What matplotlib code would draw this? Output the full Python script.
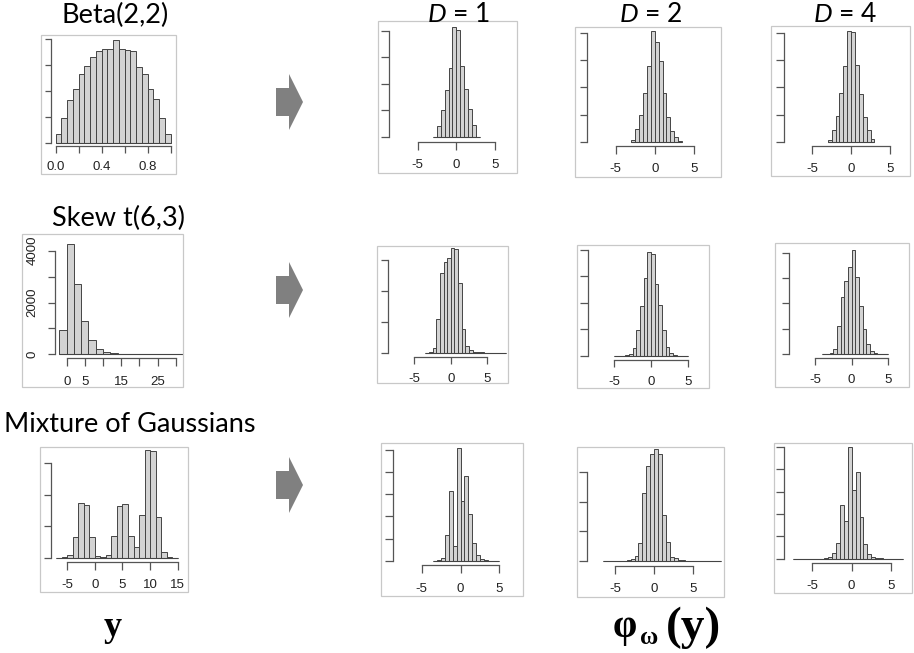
import matplotlib.pyplot as plt
from matplotlib.patches import Rectangle, Polygon
import numpy as np

plt.rcParams['mathtext.fontset'] = 'custom'
plt.rcParams['mathtext.it'] = 'Lato:italic'
plt.rcParams['mathtext.rm'] = 'Lato'

# original samples y
beta_counts = [72, 196, 330, 418, 532, 594, 661, 710, 725, 725,
               790, 723, 712, 705, 581, 527, 413, 341, 196, 72]
beta_start, beta_width = 0.0, 0.05
skew_counts = [939, 4244, 2701, 1286, 540, 219, 90, 51, 26, 12, 6, 3, 2, 1, 1, 0, 1]
skew_start, skew_width = -2.0, 2.0
mix_counts = [3, 5, 42, 332, 868, 842, 332, 32, 5, 37, 347,
              821, 853, 337, 163, 684, 1711, 1695, 647, 95, 11, 2]
mix_start, mix_width = -7.0, 1.0

# transformed samples phi_w(y), bins of 0.5
beta_d1 = [6, 213, 513, 875, 1306, 2075, 2013, 1338, 894, 525, 219, 6]
beta_d2 = [31, 233, 485, 896, 1393, 2043, 1840, 1491, 896, 448, 196, 80, 6]
beta_d4 = [31, 215, 478, 890, 1393, 2043, 2012, 1405, 877, 460, 215, 43]
skew_d1 = [0, 5, 75, 539, 1283, 1472, 1537, 1688, 1672, 1121, 377,
           108, 38, 16, 5, 5, 2, 1, 1, 0, 0, 1]
skew_d2 = [0, 0, 1, 13, 31, 144, 494, 944, 1463, 1956, 1931,
           1356, 956, 494, 169, 44, 13, 3, 1, 0]
skew_d4 = [0, 3, 20, 99, 546, 1119, 1441, 1711, 2053, 1513, 948, 487, 197, 59, 20, 7, 2, 1]
mix_d1 = [2, 8, 53, 580, 1574, 339, 2538, 1348, 1920, 1062, 392, 136, 30, 8, 3, 1, 0]
mix_d2 = [0, 0, 0, 0, 0, 1, 11, 28, 90, 303, 1158, 1607, 1804, 1888, 1804,
          770, 315, 73, 45, 22, 11, 4, 2, 1, 0, 0, 1, 0, 0, 0]
mix_d4 = [0, 0, 1, 0, 0, 0, 1, 2, 7, 37, 119, 358, 1194, 851, 2492, 1537,
          1932, 933, 336, 97, 37, 22, 7, 3, 1, 1, 0, 0]
d_width = 0.5

row_titles = ['Beta(2,2)', 'Skew t(6,3)', 'Mixture of Gaussians']
col_titles = ['1', '2', '4']

W, H = 914, 653
fig = plt.figure(figsize=(W / 100, H / 100), dpi=100)

FRAME = '#c8c8c8'
AXIS = '#555555'
BAR = '#d3d3d3'
EDGE = '#444444'
TEXT = '#222222'
PT = 0.72  # points per pixel
TICK_FS = 9.5
HALF = 6.5  # half height of a tick label, px


def fx(px):
    return px / W


def fy(py):
    return 1 - py / H


def hist_panel(frame, xref, yref, yaxis, xaxis, counts, start, width,
               xticks, xlabels, yticks, xlab_y, ylabels=None, ylab_x=None):
    l, t, r, b = frame
    fig.add_artist(Rectangle((fx(l), fy(b)), (r - l) / W, (b - t) / H,
                             transform=fig.transFigure, fill=False,
                             edgecolor=FRAME, linewidth=0.9))
    ax = fig.add_axes([fx(l), fy(b), (r - l) / W, (b - t) / H])
    (xa, pxa), (xb, pxb) = xref
    sx = (xb - xa) / (pxb - pxa)
    (ya, pya), (yb, pyb) = yref
    sy = (yb - ya) / (pyb - pya)
    ax.set_xlim(xa + (l - pxa) * sx, xa + (r - pxa) * sx)
    ax.set_ylim(ya + (b - pya) * sy, ya + (t - pya) * sy)
    ax.patch.set_visible(False)

    edges = start + width * np.arange(len(counts) + 1)
    ax.bar(edges[:-1], counts, width=width, align='edge', color=BAR,
           edgecolor=EDGE, linewidth=0.7, clip_on=False)
    ax.hlines(0, edges[0], edges[-1], color=EDGE, linewidth=0.8)

    for s in ['top', 'right']:
        ax.spines[s].set_visible(False)
    ax.spines['left'].set_position(('data', xa + (yaxis[0] - pxa) * sx))
    ax.spines['left'].set_bounds(yticks[0], yticks[-1])
    ax.spines['bottom'].set_position(('data', ya + (xaxis[0] - pya) * sy))
    ax.spines['bottom'].set_bounds(xticks[0], xticks[-1])
    for s in ['left', 'bottom']:
        ax.spines[s].set_color(AXIS)
        ax.spines[s].set_linewidth(0.9)

    ax.set_xticks(xticks)
    ax.set_xticklabels(xlabels, fontfamily='Liberation Sans', fontsize=TICK_FS, color=TEXT)
    ax.tick_params(axis='x', direction='out', color=AXIS, width=0.9,
                   length=(xaxis[1] - xaxis[0]) * PT,
                   pad=max(xlab_y - xaxis[1] - HALF, 0) * PT)
    ax.set_yticks(yticks)
    if ylabels is None:
        ax.set_yticklabels([''] * len(yticks))
        pad = 2
    else:
        ax.set_yticklabels(ylabels, fontfamily='Liberation Sans', fontsize=TICK_FS,
                           color=TEXT, rotation=90, va='center')
        pad = (yaxis[1] - ylab_x - HALF) * PT
    ax.tick_params(axis='y', direction='out', color=AXIS, width=0.9,
                   length=(yaxis[0] - yaxis[1]) * PT, pad=pad)
    return ax


d_ticks = [-5, 0, 5]
d_labels = ['-5', '0', '5']

# row 1: Beta(2,2)
hist_panel((41, 35, 176, 174), ((0, 55.7), (1, 170.7)), ((0, 143), (800, 39)),
           (51, 45), (146, 153), beta_counts, beta_start, beta_width,
           [0, 0.2, 0.4, 0.6, 0.8, 1.0], ['0.0', '', '0.4', '', '0.8', ''],
           [0, 200, 400, 600, 800], 168)
hist_panel((378, 21, 517, 173), ((-5, 417.7), (5, 495)), ((0, 137), (2000, 30.7)),
           (389.3, 381.7), (142.3, 150), beta_d1, -3.0, d_width,
           d_ticks, d_labels, [0, 500, 1000, 1500, 2000], 165.7)
hist_panel((575, 27, 721, 177), ((-5, 615.7), (5, 693.7)), ((0, 141.7), (2000, 33)),
           (587.3, 580), (145.7, 153.3), beta_d2, -3.0, d_width,
           d_ticks, d_labels, [0, 500, 1000, 1500, 2000], 170)
hist_panel((771, 26, 910, 176), ((-5, 812.3), (5, 890)), ((0, 141.7), (2000, 33)),
           (784.3, 776.7), (145.7, 153.3), beta_d4, -3.0, d_width,
           d_ticks, d_labels, [0, 500, 1000, 1500, 2000], 170)

# row 2: skew t
hist_panel((22, 234, 183, 387), ((0, 66.7), (30, 175.7)), ((0, 354.3), (4000, 250.7)),
           (55, 47.7), (358.3, 366.7), skew_counts, skew_start, skew_width,
           [0, 5, 10, 15, 20, 25, 30], ['0', '5', '', '15', '', '25', ''],
           [0, 1000, 2000, 3000, 4000], 382.7,
           ylabels=['0', '', '2000', '', '4000'], ylab_x=31.7)
hist_panel((377, 246, 508, 383), ((-5, 414.3), (5, 487.3)), ((0, 352.7), (1500, 260)),
           (387.7, 380.7), (356.7, 364), skew_d1, -3.5, d_width,
           d_ticks, d_labels, [0, 500, 1000, 1500], 379)
hist_panel((577, 245, 709, 388), ((-5, 614.3), (5, 687.7)), ((0, 355.7), (2000, 250)),
           (588.3, 580.7), (360, 367.3), skew_d2, -5.0, d_width,
           d_ticks, d_labels, [0, 500, 1000, 1500, 2000], 382.7)
hist_panel((775, 243, 909, 387), ((-5, 815), (5, 888.3)), ((0, 354), (2000, 252.7)),
           (789, 781.7), (358.3, 365.7), skew_d4, -4.0, d_width,
           d_ticks, d_labels, [0, 500, 1000, 1500, 2000], 380.7)

# row 3: mixture of Gaussians
hist_panel((40, 447, 188, 592), ((-5, 67.3), (15, 177.7)), ((0, 557.7), (1500, 463.3)),
           (51, 44.3), (561.7, 570), mix_counts, mix_start, mix_width,
           [-5, 0, 5, 10, 15], ['-5', '0', '5', '10', '15'],
           [0, 500, 1000, 1500], 585.7)
hist_panel((381, 443, 523, 596), ((-5, 421.7), (5, 499.3)), ((0, 560.7), (2500, 450)),
           (392.7, 385), (565, 572.7), mix_d1, -3.5, d_width,
           d_ticks, d_labels, [0, 500, 1000, 1500, 2000, 2500], 589)
hist_panel((577, 447, 724, 597), ((-5, 615), (5, 693.3)), ((0, 561), (1500, 472.3)),
           (586.7, 578.3), (565.7, 573.3), mix_d2, -6.5, d_width,
           d_ticks, d_labels, [0, 500, 1000, 1500], 590)
hist_panel((774, 443, 912, 593), ((-5, 812.3), (5, 891)), ((0, 558.7), (2500, 446.7)),
           (784.3, 776.7), (563.3, 571), mix_d4, -7.5, d_width,
           d_ticks, d_labels, [0, 500, 1000, 1500, 2000, 2500], 586.7)

# titles
for (cx, cy), txt in zip([(115, 15), (118, 218), (130, 425)], row_titles):
    fig.text(fx(cx), fy(cy), txt, fontfamily='Lato', fontsize=19.5,
             ha='center', va='center', color='black')
for cx, d in zip([458, 651, 845], col_titles):
    fig.text(fx(cx), fy(15), r'$D$ = ' + d, fontfamily='Lato',
             fontsize=19, ha='center', va='center', color='black')

# arrows
for cy in [102, 290, 485]:
    pts = [(276, cy - 14), (289, cy - 14), (289, cy - 28), (303, cy),
           (289, cy + 28), (289, cy + 14), (276, cy + 14)]
    fig.add_artist(Polygon([(fx(px), fy(py)) for px, py in pts], closed=True,
                           transform=fig.transFigure, facecolor='#808080',
                           edgecolor='none'))

# bottom labels
fig.text(fx(113), fy(628), 'y', fontfamily='Liberation Serif', fontweight='bold',
         fontsize=26, ha='center', va='center')
fig.text(fx(625), fy(627), 'φ', fontfamily='Liberation Serif', fontweight='bold',
         fontsize=28, ha='center', va='center')
fig.text(fx(649), fy(638), 'ω', fontfamily='Liberation Serif', fontweight='bold',
         fontsize=18, ha='center', va='center')
fig.text(fx(694), fy(628), '(y)', fontfamily='Liberation Serif', fontweight='bold',
         fontsize=34, ha='center', va='center')

fig.savefig('out.png', dpi=100)
